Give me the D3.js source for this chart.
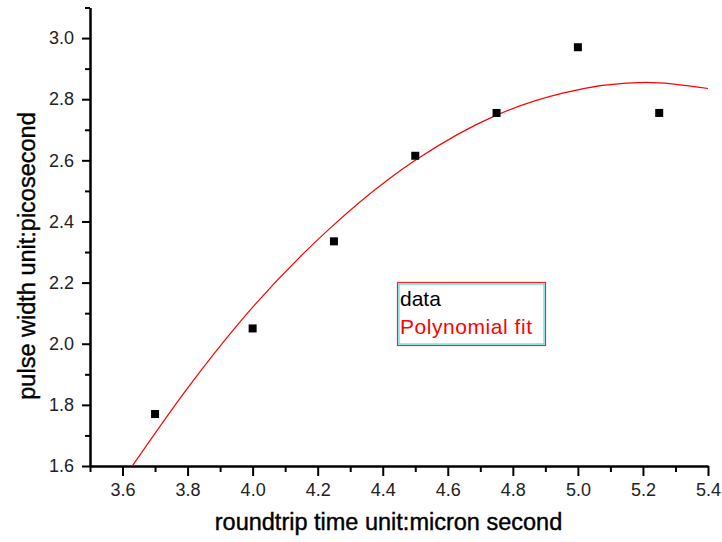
<!DOCTYPE html>
<html>
<head>
<meta charset="utf-8">
<script src="https://cdn.jsdelivr.net/npm/d3@7"></script>
<style>
  body { margin: 0; background: #fff; }
  svg { font-family: "Liberation Sans", Arial, sans-serif; }
  .tick text { font-size: 18px; fill: #222; }
</style>
</head>
<body>
<div id="chart"></div>
<script>
// measured points
var dataX = [3.7, 4.0, 4.25, 4.5, 4.75, 5.0, 5.25];
var dataY = [1.77, 2.05, 2.335, 2.615, 2.755, 2.97, 2.755];

// points
var fitX = [3.63, 3.80, 3.96, 4.24, 4.42, 4.50, 4.75, 4.95, 5.21, 5.40];
var fitY = [1.60, 1.855, 2.07, 2.38, 2.54, 2.60, 2.748, 2.819, 2.855, 2.835];

var xMajor = [3.6, 3.8, 4.0, 4.2, 4.4, 4.6, 4.8, 5.0, 5.2, 5.4];
var xMinor = [3.5, 3.7, 3.9, 4.1, 4.3, 4.5, 4.7, 4.9, 5.1, 5.3];
var yMajor = [1.6, 1.8, 2.0, 2.2, 2.4, 2.6, 2.8, 3.0];
var yMinor = [1.7, 1.9, 2.1, 2.3, 2.5, 2.7, 2.9, 3.1];

var svgWidth = 722;
var svgHeight = 542;

var svg = d3.select("#chart")
    .append("svg")
    .attr("width", svgWidth)
    .attr("height", svgHeight);

var xScale = d3.scaleLinear().domain([3.5, 5.4]).range([90, 708]);
var yScale = d3.scaleLinear().domain([1.6, 3.1]).range([466, 7.5]);

// clip for the fit curve
svg.append("clipPath").attr("id", "plotClip")
    .append("rect")
    .attr("x", 90).attr("y", 7.5)
    .attr("width", 618).attr("height", 458.5);

// axes: minor ticks first, then major with labels
svg.append("g")
    .attr("transform", "translate(0,466)")
    .call(d3.axisBottom(xScale).tickValues(xMinor).tickSize(6).tickSizeOuter(0).tickFormat(""));
var xAxis = svg.append("g")
    .attr("transform", "translate(0,466)")
    .call(d3.axisBottom(xScale).tickValues(xMajor).tickSize(10).tickSizeOuter(0)
        .tickFormat(d3.format(".1f")).tickPadding(7));

svg.append("g")
    .attr("transform", "translate(90,0)")
    .call(d3.axisLeft(yScale).tickValues(yMinor).tickSize(5).tickSizeOuter(0).tickFormat(""));
var yAxis = svg.append("g")
    .attr("transform", "translate(90,0)")
    .call(d3.axisLeft(yScale).tickValues(yMajor).tickSize(8).tickSizeOuter(0)
        .tickFormat(d3.format(".1f")).tickPadding(8));

svg.selectAll(".domain").attr("stroke", "#000").attr("stroke-width", 2);
svg.selectAll(".tick line").attr("stroke", "#000").attr("stroke-width", 2);
svg.selectAll(".tick text").attr("font-family", null).attr("font-size", null);

// fit curve
var line = d3.line()
    .x(function(d) { return xScale(d[0]); })
    .y(function(d) { return yScale(d[1]); })
    .curve(d3.curveMonotoneX);

svg.append("path")
    .datum(fitX.map(function(x, i) { return [x, fitY[i]]; }))
    .attr("clip-path", "url(#plotClip)")
    .attr("fill", "none")
    .attr("stroke", "#ff0000")
    .attr("stroke-width", 1.2)
    .attr("d", line);

// data squares
var side = 8;
svg.selectAll("rect.pt")
    .data(dataX)
    .enter()
    .append("rect")
    .attr("class", "pt")
    .attr("x", function(d) { return xScale(d) - side / 2; })
    .attr("y", function(d, i) { return yScale(dataY[i]) - side / 2; })
    .attr("width", side)
    .attr("height", side)
    .attr("fill", "#000");

// legend
var legend = svg.append("g");
legend.append("rect")
    .attr("x", 397.5).attr("y", 282.5)
    .attr("width", 148).attr("height", 63)
    .attr("fill", "#fff")
    .attr("stroke", "#ff2020").attr("stroke-width", 1.2);
legend.append("rect")
    .attr("x", 399).attr("y", 284)
    .attr("width", 145).attr("height", 60)
    .attr("fill", "none")
    .attr("stroke", "#20e0e0").attr("stroke-width", 1);
legend.append("text")
    .attr("x", 400).attr("y", 306)
    .attr("font-size", 21)
    .attr("fill", "#000")
    .text("data");
legend.append("text")
    .attr("x", 400).attr("y", 334)
    .attr("font-size", 21)
    .attr("fill", "#ff0000")
    .attr("textLength", 132)
    .text("Polynomial fit");

// axis titles
svg.append("text")
    .attr("x", 388.5).attr("y", 530)
    .attr("text-anchor", "middle")
    .attr("font-size", 23.5)
    .attr("fill", "#000")
    .style("stroke", "#000").style("stroke-width", 0.4)
    .text("roundtrip time unit:micron second");

svg.append("text")
    .attr("transform", "translate(35,256) rotate(-90)")
    .attr("text-anchor", "middle")
    .attr("font-size", 23.5)
    .attr("fill", "#000")
    .style("stroke", "#000").style("stroke-width", 0.4)
    .text("pulse width unit:picosecond");
</script>
</body>
</html>
